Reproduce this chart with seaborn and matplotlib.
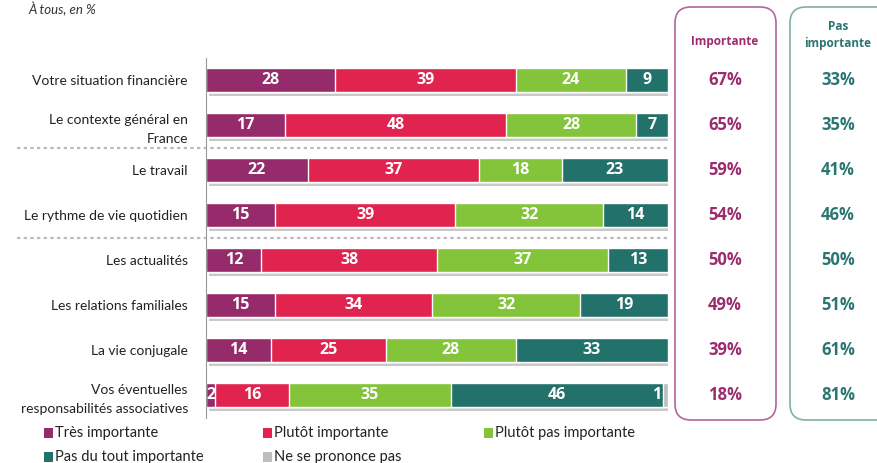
import numpy as np
import pandas as pd
import seaborn as sns
import matplotlib.pyplot as plt
from matplotlib import patheffects
from matplotlib.patches import FancyBboxPatch, Rectangle
from matplotlib.transforms import IdentityTransform

# données
items = ['Votre situation financière', 'Le contexte général en\nFrance', 'Le travail',
         'Le rythme de vie quotidien', 'Les actualités', 'Les relations familiales',
         'La vie conjugale', 'Vos éventuelles\nresponsabilités associatives']
tres = [28, 17, 22, 15, 12, 15, 14, 2]
plutot = [39, 48, 37, 39, 38, 34, 25, 16]
plutot_pas = [24, 28, 18, 32, 37, 32, 28, 35]
pas_du_tout = [9, 7, 23, 14, 13, 19, 33, 46]
nsp = [0, 0, 0, 0, 0, 0, 0, 1]
importante = [67, 65, 59, 54, 50, 49, 39, 18]
pas_importante = [33, 35, 41, 46, 50, 51, 61, 81]

series_names = ['Très importante', 'Plutôt importante', 'Plutôt pas importante',
                'Pas du tout importante', 'Ne se prononce pas']
colors = ['#962B6B', '#E1234F', '#84C43B', '#23716B', '#BDBDBD']

sns.set_style('white')
plt.rcParams['font.family'] = ['Lato', 'DejaVu Sans']
BOLD = ['Open Sans', 'DejaVu Sans']

df = pd.DataFrame({'item': items, series_names[0]: tres, series_names[1]: plutot,
                   series_names[2]: plutot_pas, series_names[3]: pas_du_tout,
                   series_names[4]: nsp})
cum = df[series_names].cumsum(axis=1)

fig = plt.figure(figsize=(8.78, 4.63), dpi=100)
ax = fig.add_axes([206 / 878, 1 - 417.5 / 463, 462 / 878, 360 / 463])

# barres empilées : on dessine les cumuls du plus grand au plus petit
for i in range(len(series_names) - 1, -1, -1):
    n_before = len(ax.patches)
    sns.barplot(x=cum[series_names[i]], y=df['item'], orient='h', color=colors[i],
                saturation=1, width=0.54, ax=ax)
    if i == len(series_names) - 1:
        for p in ax.patches[n_before:]:
            p.set_path_effects([patheffects.withSimplePatchShadow(offset=(2, -3), shadow_rgbFace='#888888', alpha=0.45),
                                patheffects.Normal()])

# étiquettes
for r in range(len(items)):
    left = 0
    for s in series_names:
        v = df.loc[r, s]
        if v > 0:
            if s == 'Ne se prononce pas':
                ax.text(left - 0.4, r, str(v), ha='right', va='center', color='white',
                        fontsize=11.5, fontweight='bold', family=BOLD)
            else:
                ax.text(left + v / 2, r, str(v), ha='center', va='center', color='white',
                        fontsize=11.5, fontweight='bold', family=BOLD)
        left += v

ax.set_xlim(0, 100)
ax.set_ylim(7.5, -0.5)
ax.set_xlabel('')
ax.set_ylabel('')
ax.set_xticks([])
ax.set_yticks(range(len(items)))
ax.set_yticklabels(items, fontsize=10, color='#222222', linespacing=1.7)
ax.set_yticks(np.arange(-0.5, 8, 1), minor=True)
ax.tick_params(axis='y', which='major', length=0, pad=13)
ax.tick_params(axis='y', which='minor', length=4, color='#999999', width=1)
for side in ['top', 'right', 'bottom']:
    ax.spines[side].set_visible(False)
ax.spines['left'].set_color('#999999')

# séparateurs pointillés
for yy in [1.5, 3.5]:
    ax.axhline(yy, xmin=-0.41, xmax=1.004, color='#BBBBBB', linestyle=(0, (1.5, 1.5)),
               linewidth=1.6, clip_on=False)

# cadres de droite
box1 = FancyBboxPatch((675, 43), 101, 413, boxstyle='round,pad=0,rounding_size=16',
                      transform=IdentityTransform(), fill=False, edgecolor='#B4649A', linewidth=1.2)
box2 = FancyBboxPatch((790, 43), 120, 413, boxstyle='round,pad=0,rounding_size=16',
                      transform=IdentityTransform(), fill=False, edgecolor='#7FB0AC', linewidth=1.2)
fig.patches.extend([box1, box2])

fig.text(725 / 878, 1 - 42 / 463, 'Importante', ha='center', va='center', fontsize=8.5,
         fontweight='bold', color='#9B2D6E', family=BOLD)
fig.text(838 / 878, 1 - 35 / 463, 'Pas\nimportante', ha='center', va='center', fontsize=8.5,
         fontweight='bold', color='#2B7672', linespacing=1.3, family=BOLD)

for r in range(len(items)):
    yfig = ax.transData.transform((0, r))[1] / 463
    fig.text(725 / 878, yfig, f'{importante[r]}%', ha='center', va='center', fontsize=12,
             fontweight='bold', color='#9B2D6E', family=BOLD)
    fig.text(838 / 878, yfig, f'{pas_importante[r]}%', ha='center', va='center', fontsize=12,
             fontweight='bold', color='#2B7672', family=BOLD)

# légende
leg_pos = [(48, 433), (267, 433), (488, 433), (48, 457), (267, 457)]
for (px, py), name, c in zip(leg_pos, series_names, colors):
    fig.patches.append(Rectangle((px - 4, 463 - py - 5), 9, 10, transform=IdentityTransform(),
                                 facecolor=c, edgecolor='none'))
    fig.text((px + 7) / 878, 1 - py / 463, name, ha='left', va='center', fontsize=10.5, color='#222222')

fig.text(28 / 878, 1 - 14 / 463, 'À tous, en %', ha='left', va='baseline', fontsize=9.5,
         style='italic', color='#333333')

plt.savefig('out.png', dpi=100)
